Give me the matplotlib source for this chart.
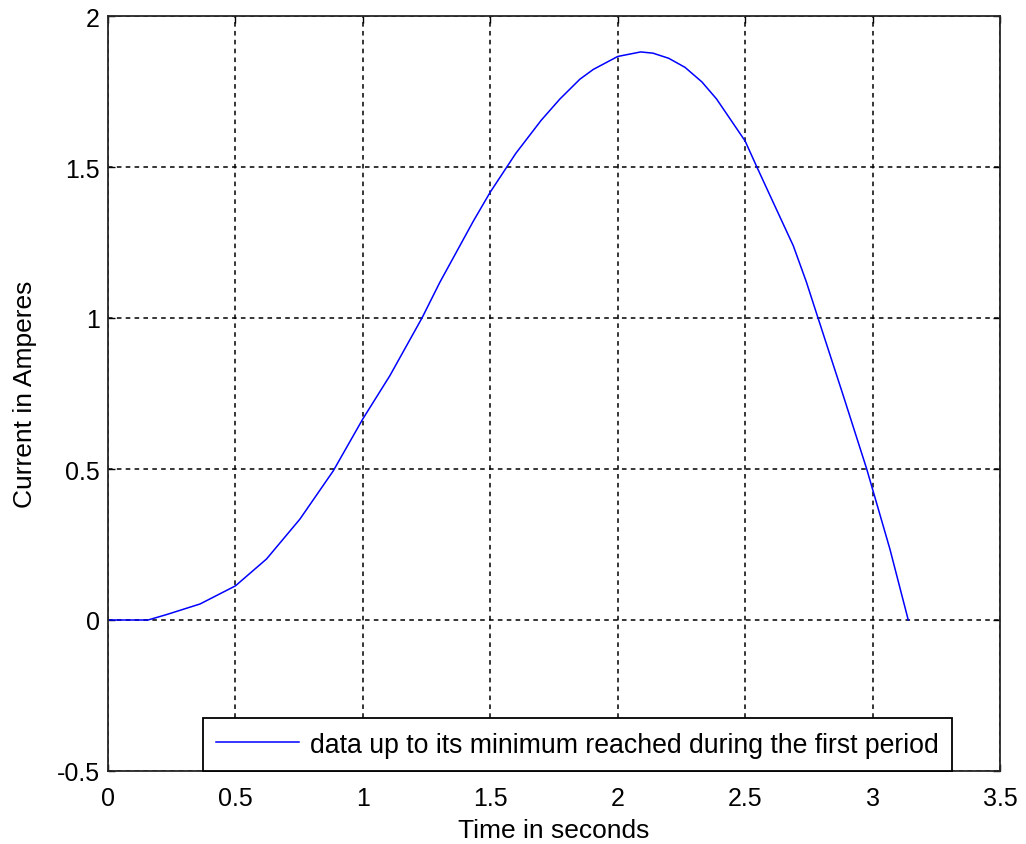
import matplotlib
matplotlib.use("Agg")
import matplotlib.pyplot as plt

plt.rcParams['font.family'] = ['Liberation Sans', 'DejaVu Sans']

# current samples read along the first period (seconds, amperes)
t = [0.0, 0.157, 0.23, 0.361, 0.5, 0.622, 0.753, 0.884, 1.0, 1.106,
     1.232, 1.302, 1.433, 1.5, 1.6, 1.7, 1.773, 1.852, 1.904, 2.0,
     2.09, 2.138, 2.2, 2.264, 2.33, 2.388, 2.5, 2.546, 2.61, 2.689,
     2.74, 2.786, 2.885, 2.977, 3.068, 3.14]
current = [0.0, 0.0, 0.018, 0.053, 0.113, 0.202, 0.334, 0.494, 0.666, 0.809,
           1.0, 1.118, 1.32, 1.417, 1.545, 1.655, 1.725, 1.791, 1.823, 1.866,
           1.881, 1.877, 1.860, 1.830, 1.782, 1.725, 1.586, 1.5, 1.383, 1.239,
           1.12, 1.0, 0.743, 0.5, 0.235, 0.0]

legend_label = "data up to its minimum reached during the first period"
xticks = [0, 0.5, 1, 1.5, 2, 2.5, 3, 3.5]
xticklabels = ["0", "0.5", "1", "1.5", "2", "2.5", "3", "3.5"]
yticks = [-0.5, 0, 0.5, 1, 1.5, 2]
yticklabels = ["-0.5", "0", "0.5", "1", "1.5", "2"]

fig = plt.figure(figsize=(10.26, 8.45), dpi=100, facecolor='white')
ax = fig.add_axes([108/1026, 1 - 772/845, 892/1026, 755/845])

ax.plot(t, current, color='#0000ff', lw=1.1, label=legend_label)

ax.set_xlim(0, 3.5)
ax.set_ylim(-0.5, 2)
ax.set_xticks(xticks)
ax.set_xticklabels(xticklabels)
ax.set_yticks(yticks)
ax.set_yticklabels(yticklabels)

# matlab-like box: inward ticks on every side, black dashed grid
ax.tick_params(direction='in', length=5, width=1, top=True, right=True,
               labelsize=18, colors='black')
ax.tick_params(axis='x', pad=11)
ax.tick_params(axis='y', pad=6)
ax.grid(True, color='black', linestyle=(0, (3, 2.8)), linewidth=1.1)
for s in ax.spines.values():
    s.set_linewidth(1.3)
    s.set_color('#262626')

ax.set_xlabel("Time in seconds", fontsize=19, labelpad=5.5)
ax.set_ylabel("Current in Amperes", fontsize=19, labelpad=14)

leg = ax.legend(loc='lower left', bbox_to_anchor=(95/892, 0.0), fontsize=19.2,
                frameon=True, fancybox=False, borderaxespad=0,
                handlelength=3.1, handletextpad=0.4, borderpad=0.5)
leg.get_frame().set_edgecolor('black')
leg.get_frame().set_linewidth(1.3)
leg.get_frame().set_alpha(1)

fig.savefig("out.png", dpi=100, facecolor='white')
